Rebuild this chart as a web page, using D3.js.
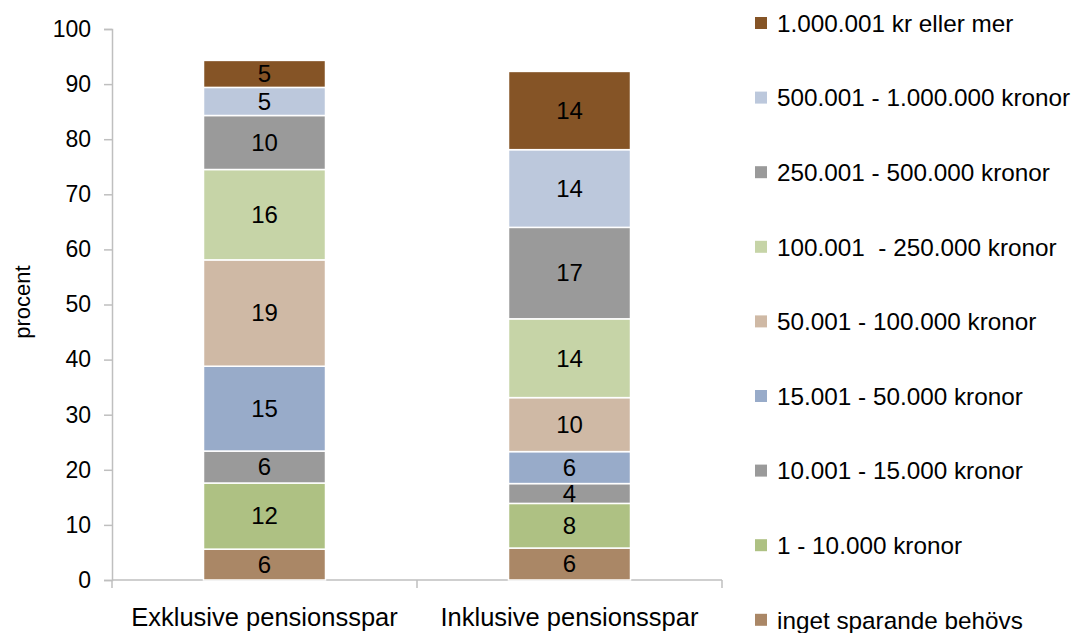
<!DOCTYPE html>
<html>
<head>
<meta charset="utf-8">
<script src="https://cdn.jsdelivr.net/npm/d3@7"></script>
<style>
  html, body { margin: 0; padding: 0; background: #fff; }
  svg { display: block; font-family: "Liberation Sans", Arial, sans-serif; }
</style>
</head>
<body>
<svg id="chart" width="1075" height="633"></svg>
<script>
// ---- data ----
const categories = ["Exklusive pensionsspar", "Inklusive pensionsspar"];
const seriesNames = [
  "inget sparande behövs",
  "1 - 10.000 kronor",
  "10.001 - 15.000 kronor",
  "15.001 - 50.000 kronor",
  "50.001 - 100.000 kronor",
  "100.001  - 250.000 kronor",
  "250.001 - 500.000 kronor",
  "500.001 - 1.000.000 kronor",
  "1.000.001 kr eller mer"
];
const exklusiveValues = [5.6, 12.0, 5.8, 15.4, 19.3, 16.4, 9.8, 5.1, 4.9];
const inklusiveValues = [5.8, 8.1, 3.6, 5.8, 9.8, 14.3, 16.6, 14.1, 14.2];
const seriesColors = ["#AA8766", "#AEC183", "#9A9A9A", "#98ABC9", "#CFB9A5", "#C6D4A7", "#9A9A9A", "#BCC8DC", "#855426"];
const yTicks = [0, 10, 20, 30, 40, 50, 60, 70, 80, 90, 100];
const yLabel = "procent";

// ---- build table ----
const valuesByCategory = [exklusiveValues, inklusiveValues];
const table = categories.map((c, ci) => {
  const row = { category: c };
  seriesNames.forEach((s, si) => { row[s] = valuesByCategory[ci][si]; });
  return row;
});
const stacked = d3.stack().keys(seriesNames)(table);

const svg = d3.select("#chart");
const axisColor = "#BFBFBF";

const x = d3.scaleBand().domain(categories).range([112, 722]).paddingInner(0.6).paddingOuter(0.3);
const y = d3.scaleLinear().domain([0, 100]).range([580, 29]);
const color = d3.scaleOrdinal().domain(seriesNames).range(seriesColors);

// y axis
const yAxis = svg.append("g").attr("transform", "translate(112,0)")
  .call(d3.axisLeft(y).tickValues(yTicks).tickSize(8).tickPadding(13).tickFormat(d3.format("d")));
yAxis.select(".domain").attr("stroke", axisColor).attr("stroke-width", 1.5);
yAxis.selectAll(".tick line").attr("stroke", axisColor).attr("stroke-width", 1.5);
yAxis.selectAll(".tick text").attr("fill", "#000").style("font-size", "23px")
  .style("font-family", "'Liberation Sans', Arial, sans-serif");

// x axis baseline and category dividers
const xr = x.range();
svg.append("line").attr("x1", xr[0]).attr("x2", xr[1]).attr("y1", y(0)).attr("y2", y(0))
  .attr("stroke", axisColor).attr("stroke-width", 1.5);
const divPos = d3.range(categories.length + 1).map(i => xr[0] + i * (xr[1] - xr[0]) / categories.length);
svg.append("g").selectAll("line").data(divPos).join("line")
  .attr("x1", d => d).attr("x2", d => d).attr("y1", y(0)).attr("y2", y(0) + 8)
  .attr("stroke", axisColor).attr("stroke-width", 1.5);

// category labels
svg.append("g").selectAll("text").data(categories).join("text")
  .attr("x", d => x(d) + x.bandwidth() / 2).attr("y", 626)
  .attr("text-anchor", "middle").style("font-size", "25.5px").attr("fill", "#000")
  .text(d => d);

// y label
svg.append("text").attr("transform", "translate(30,302) rotate(-90)")
  .attr("text-anchor", "middle").style("font-size", "22px").attr("fill", "#000")
  .text(yLabel);

// bars
const layers = svg.append("g").selectAll("g").data(stacked).join("g")
  .attr("fill", d => color(d.key));
layers.selectAll("rect").data(d => d).join("rect")
  .attr("x", d => x(d.data.category))
  .attr("width", x.bandwidth())
  .attr("y", d => y(d[1]))
  .attr("height", d => y(d[0]) - y(d[1]))
  .attr("stroke", "#fff").attr("stroke-width", 1.5);

// bar labels
const labels = svg.append("g");
stacked.forEach(layer => {
  layer.forEach(d => {
    labels.append("text")
      .attr("x", x(d.data.category) + x.bandwidth() / 2)
      .attr("y", (y(d[0]) + y(d[1])) / 2)
      .attr("dy", "0.35em")
      .attr("text-anchor", "middle")
      .style("font-size", "24px").attr("fill", "#000")
      .text(Math.round(d[1] - d[0]));
  });
});

// legend (top item = last series)
const legendItems = seriesNames.slice().reverse();
const lg = svg.append("g").selectAll("g").data(legendItems).join("g")
  .attr("transform", (d, i) => `translate(755, ${23 + i * 74.6})`);
lg.append("rect").attr("x", 0).attr("y", -6).attr("width", 12).attr("height", 12)
  .attr("fill", d => color(d));
lg.append("text").attr("x", 22).attr("y", 0).attr("dy", "0.36em")
  .style("font-size", "24.3px").style("white-space", "pre").attr("fill", "#000")
  .text(d => d);
</script>
</body>
</html>
